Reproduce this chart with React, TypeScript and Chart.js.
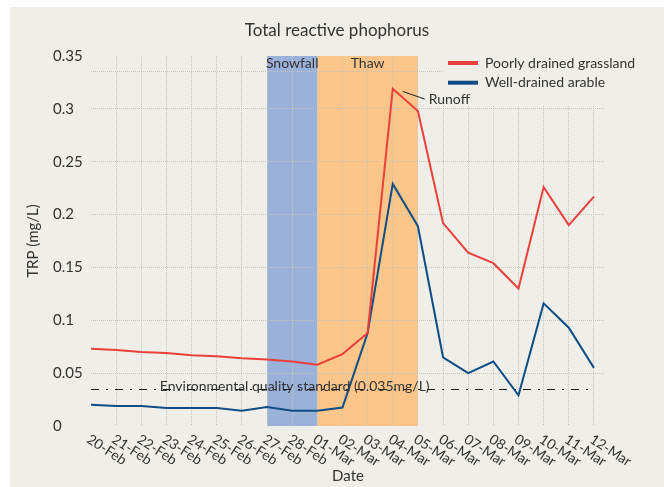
import React, { useEffect, useRef } from 'react';
import { Chart, registerables } from 'chart.js';

Chart.register(...registerables);

// ---------- data ----------
const dates = [
  '20-Feb', '21-Feb', '22-Feb', '23-Feb', '24-Feb', '25-Feb', '26-Feb', '27-Feb', '28-Feb',
  '01-Mar', '02-Mar', '03-Mar', '04-Mar', '05-Mar', '06-Mar', '07-Mar', '08-Mar', '09-Mar',
  '10-Mar', '11-Mar', '12-Mar',
];
const seriesNames = ['Poorly drained grassland', 'Well-drained arable'];
const poorlyDrained = [
  0.073, 0.072, 0.070, 0.069, 0.067, 0.066, 0.064, 0.063, 0.061,
  0.058, 0.068, 0.088, 0.319, 0.298, 0.192, 0.164, 0.154, 0.130,
  0.226, 0.190, 0.217,
];
const wellDrained = [
  0.020, 0.019, 0.019, 0.017, 0.017, 0.017, 0.0145, 0.018, 0.0145,
  0.0145, 0.0175, 0.088, 0.229, 0.189, 0.065, 0.050, 0.061, 0.029,
  0.116, 0.093, 0.055,
];
const standardValue = 0.035;
const standardLabel = 'Environmental quality standard (0.035mg/L)';
const periodNames = ['Snowfall', 'Thaw'];
const periodStarts = ['27-Feb', '01-Mar'];
const periodEnds = ['01-Mar', '05-Mar'];
const runoffLabel = 'Runoff';
const runoffDate = '04-Mar';
const yTickValues = [0, 0.05, 0.1, 0.15, 0.2, 0.25, 0.3, 0.35];
const yTickLabels = ['0', '0.05', '0.1', '0.15', '0.2', '0.25', '0.3', '0.35'];
const yExtraGrid = [0.335];
const chartTitle = 'Total reactive phophorus';
const xTitle = 'Date';
const yTitle = 'TRP (mg/L)';

// ---------- style ----------
const PANEL = '#efeee9';
const GRID = '#c6c4b9';
const TEXT = '#333333';
const RED = '#e8403a';
const BLUE = '#0f4d84';
const PERIOD_COLORS = ['#9ab2da', '#fcc58a'];
const FONT = 'Lato, "Open Sans", sans-serif';

export default function App() {
  const ref = useRef<HTMLCanvasElement>(null);

  useEffect(() => {
    const canvas = ref.current;
    if (!canvas) return;
    const idx = (d: string) => dates.indexOf(d);

    const deco = {
      id: 'deco',
      beforeDraw(chart: any) {
        const { ctx, chartArea: a, scales } = chart;
        const xs = scales.x;
        ctx.save();
        periodNames.forEach((_, k) => {
          const x0 = xs.getPixelForValue(idx(periodStarts[k]));
          const x1 = xs.getPixelForValue(idx(periodEnds[k]));
          ctx.fillStyle = PERIOD_COLORS[k];
          ctx.fillRect(x0, a.top, x1 - x0, a.bottom - a.top);
        });
        ctx.restore();
      },
      beforeDatasetsDraw(chart: any) {
        const { ctx, chartArea: a, scales } = chart;
        const xs = scales.x;
        const ys = scales.y;
        ctx.save();
        ctx.fillStyle = PANEL;
        ctx.fillRect(a.right - 162, a.top, 162, 50);
        // environmental quality standard line
        const y = Math.round(ys.getPixelForValue(standardValue)) + 0.5;
        ctx.strokeStyle = '#1a1a1a';
        ctx.lineWidth = 1;
        ctx.setLineDash([8, 7, 2, 7]);
        ctx.beginPath();
        ctx.moveTo(xs.getPixelForValue(0), y);
        ctx.lineTo(xs.getPixelForValue(dates.length - 1), y);
        ctx.stroke();
        ctx.setLineDash([]);
        ctx.restore();
      },
      afterDatasetsDraw(chart: any) {
        const { ctx, chartArea: a, scales } = chart;
        const xs = scales.x;
        const ys = scales.y;
        ctx.save();
        ctx.fillStyle = TEXT;
        ctx.font = `14px ${FONT}`;
        ctx.textBaseline = 'middle';
        ctx.textAlign = 'center';
        periodNames.forEach((name, k) => {
          const x0 = xs.getPixelForValue(idx(periodStarts[k]));
          const x1 = xs.getPixelForValue(idx(periodEnds[k]));
          ctx.fillText(name, (x0 + x1) / 2, a.top + 7.5);
        });
        // runoff
        const ri = idx(runoffDate);
        const px = xs.getPixelForValue(ri);
        const py = ys.getPixelForValue(poorlyDrained[ri]);
        ctx.strokeStyle = '#1e1e1e';
        ctx.lineWidth = 1;
        ctx.beginPath();
        ctx.moveTo(px + 10, py + 2.7);
        ctx.lineTo(px + 32, py + 10.3);
        ctx.stroke();
        ctx.textAlign = 'left';
        ctx.fillText(runoffLabel, px + 36, py + 10.3);
        // standard label
        ctx.textAlign = 'center';
        ctx.textBaseline = 'alphabetic';
        ctx.fillText(standardLabel, xs.getPixelForValue(8.1), ys.getPixelForValue(standardValue) + 2);
        ctx.restore();
      },
      afterDraw(chart: any) {
        const { ctx, chartArea: a, scales } = chart;
        const xs = scales.x;
        const ys = scales.y;
        ctx.save();
        // legend
        const series = chart.data.datasets;
        series.forEach((ds: any, k: number) => {
          const y = a.top + 7 + k * 19.7;
          ctx.strokeStyle = ds.borderColor;
          ctx.lineWidth = 4;
          ctx.beginPath();
          ctx.moveTo(a.right - 157, y);
          ctx.lineTo(a.right - 127, y);
          ctx.stroke();
          ctx.fillStyle = TEXT;
          ctx.font = `14px ${FONT}`;
          ctx.textAlign = 'left';
          ctx.textBaseline = 'middle';
          ctx.fillText(ds.label, a.right - 120, y);
        });
        // y tick labels, left aligned
        ctx.fillStyle = TEXT;
        ctx.font = `15px ${FONT}`;
        ctx.textAlign = 'left';
        ctx.textBaseline = 'middle';
        yTickValues.forEach((v, k) => {
          ctx.fillText(yTickLabels[k], a.left - 38, ys.getPixelForValue(v));
        });
        // rotated x tick labels
        ctx.font = `14px ${FONT}`;
        ctx.textBaseline = 'top';
        dates.forEach((d, i) => {
          const x = xs.getPixelForValue(i);
          ctx.save();
          ctx.translate(x + 1, a.bottom + 6);
          ctx.rotate((33 * Math.PI) / 180);
          ctx.fillText(d, 0, 0);
          ctx.restore();
        });
        ctx.restore();
      },
    };

    const chart = new Chart(canvas, {
      type: 'line',
      data: {
        datasets: [
          {
            label: seriesNames[0],
            data: dates.map((_, i) => ({ x: i, y: poorlyDrained[i] })),
            borderColor: RED,
            backgroundColor: RED,
            borderWidth: 2,
            pointRadius: 0,
            tension: 0,
          },
          {
            label: seriesNames[1],
            data: dates.map((_, i) => ({ x: i, y: wellDrained[i] })),
            borderColor: BLUE,
            backgroundColor: BLUE,
            borderWidth: 2,
            pointRadius: 0,
            tension: 0,
          },
        ],
      },
      options: {
        responsive: false,
        animation: false,
        layout: { padding: 0 },
        plugins: {
          legend: { display: false },
          tooltip: { enabled: false },
          title: {
            display: true,
            text: chartTitle,
            color: TEXT,
            font: { family: FONT, size: 17, weight: 'normal', lineHeight: 1.2 },
            padding: { top: 13.8, bottom: 14.8 },
          },
        },
        scales: {
          x: {
            type: 'linear',
            min: 0,
            max: 20.44,
            afterBuildTicks: (s: any) => {
              s.ticks = dates.map((_, i) => ({ value: i }));
            },
            ticks: { display: false },
            grid: {
              color: (c: any) => (c.tick && c.tick.value === 0 ? 'rgba(0,0,0,0)' : GRID),
              lineWidth: 1,
              drawTicks: false,
            },
            border: { display: false, dash: [1, 1] },
            title: {
              display: true,
              text: xTitle,
              color: TEXT,
              font: { family: FONT, size: 15, lineHeight: 1.2 },
              padding: { top: 0, bottom: 2 },
            },
            afterFit: (s: any) => {
              s.height = 61;
            },
          },
          y: {
            type: 'linear',
            min: 0,
            max: 0.35,
            afterBuildTicks: (s: any) => {
              s.ticks = [...yTickValues, ...yExtraGrid].sort((p, q) => p - q).map((v) => ({ value: v }));
            },
            ticks: { display: false },
            grid: {
              color: (c: any) =>
                c.tick && (c.tick.value === 0 || c.tick.value === 0.35) ? 'rgba(0,0,0,0)' : GRID,
              lineWidth: 1,
              drawTicks: false,
            },
            border: { display: false, dash: [1, 1] },
            title: {
              display: true,
              text: yTitle,
              color: TEXT,
              font: { family: FONT, size: 15, lineHeight: 1.2 },
              padding: { top: 14, bottom: 0 },
            },
            afterFit: (s: any) => {
              s.width = 81;
            },
          },
          yR: {
            type: 'linear',
            position: 'right',
            display: true,
            grid: { display: false, drawOnChartArea: false, drawTicks: false },
            ticks: { display: false },
            border: { display: false },
            afterFit: (s: any) => {
              s.width = 59;
            },
          },
        },
      } as any,
      plugins: [deco],
    });

    return () => chart.destroy();
  }, []);

  return (
    <div style={{ position: 'absolute', left: 0, top: 0, width: 664, height: 487, background: '#ffffff' }}>
      <canvas
        ref={ref}
        width={654}
        height={480}
        style={{ position: 'absolute', left: 10, top: 7, width: 654, height: 480, background: PANEL }}
      />
    </div>
  );
}
